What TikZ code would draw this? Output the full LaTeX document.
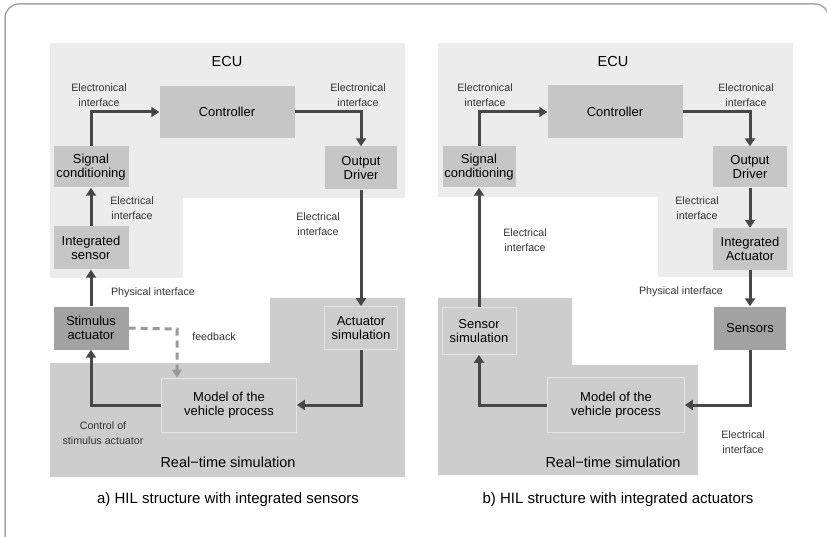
\documentclass[tikz,border=0pt]{standalone}
\usepackage{fontspec}
\setmainfont{Liberation Sans}
\usetikzlibrary{arrows.meta}
\definecolor{ecubg}{HTML}{ECECEC}
\definecolor{simbg}{HTML}{CDCDCD}
\definecolor{boxgray}{HTML}{C6C6C6}
\definecolor{darkgray}{HTML}{A2A2A2}
\definecolor{linegray}{HTML}{474747}
\definecolor{framegray}{HTML}{A8A8A8}

\begin{document}
\begin{tikzpicture}[x=1pt, y=-1pt,
  box/.style={fill=boxgray, align=center, inner sep=0pt, font=\fontsize{13}{14.5}\selectfont},
  darkbox/.style={box, fill=darkgray},
  simbox/.style={box, fill=simbg, draw=white!45!simbg, line width=0.8pt},
  lbl/.style={align=center, text=black!80, font=\fontsize{10.7}{14.5}\selectfont},
  title/.style={font=\fontsize{14.5}{16}\selectfont},
  caption/.style={font=\fontsize{15}{17}\selectfont},
  flow/.style={draw=linegray, line width=3pt, -{Triangle[width=10pt,length=8pt]}},
  fb/.style={flow, draw=black!40, dash pattern=on 7pt off 5pt}
  ]
  \useasboundingbox (0,0) rectangle (827,537);
  \begin{scope}
  \clip (0,0) rectangle (827,537);
  \draw[framegray, line width=1.5pt, rounded corners=14pt] (5,4) rectangle (829,548);
  \end{scope}

  % a) integrated sensors
  \fill[ecubg] (50,43) -- (405,43) -- (405,198) -- (183,198) -- (183,278) -- (50,278) -- cycle;
  \fill[simbg] (50,363) -- (270,363) -- (270,298) -- (405,298) -- (405,477) -- (50,477) -- cycle;
  \node[title] (ecuA) at (227,62) {ECU};
  \node[title] (rtA) at (228,462) {Real−time simulation};
  \node[box, minimum width=135pt, minimum height=52pt] (ctrlA) at (227,112) {Controller};
  \node[box, minimum width=75pt, minimum height=41pt] (sigA) at (91,167) {Signal\\conditioning};
  \node[box, minimum width=72pt, minimum height=43pt] (drvA) at (361,168) {Output\\Driver};
  \node[box, minimum width=75pt, minimum height=43pt] (senA) at (91,248) {Integrated\\sensor};
  \node[darkbox, minimum width=75pt, minimum height=43pt] (stimA) at (91,328) {Stimulus\\actuator};
  \node[simbox, minimum width=73pt, minimum height=43pt] (actA) at (361,328) {Actuator\\simulation};
  \node[simbox, minimum width=135pt, minimum height=54pt] (modA) at (229,405) {Model of the\\vehicle process};
  \coordinate (fbA) at (177,329);
  \draw[flow] (sigA.north) |- (ctrlA.west);
  \draw[flow] (ctrlA.east) -| (drvA.north);
  \draw[flow] (senA.north) -- (sigA.south);
  \draw[flow] (stimA.north) -- (senA.south);
  \draw[flow] (drvA.south) -- (actA.north);
  \draw[flow] (actA.south) |- (modA.east);
  \draw[flow] (modA.west) -| (stimA.south);
  \draw[fb] (stimA.east) -- (fbA) -- (fbA |- modA.north);
  \node[lbl] (eiA1) at (99,95) {Electronical\\interface};
  \node[lbl] (eiA2) at (358,95) {Electronical\\interface};
  \node[lbl] (elA1) at (132,208) {Electrical\\interface};
  \node[lbl] (elA2) at (318,224) {Electrical\\interface};
  \node[lbl] (phA) at (153,293) {Physical interface};
  \node[lbl] (fbkA) at (214,337) {feedback};
  \node[lbl] (csA) at (103,433) {Control of\\stimulus actuator};
  \node[caption] (capA) at (228,500) {a) HIL structure with integrated sensors};

  % b) integrated actuators
  \fill[ecubg] (438,43) -- (793,43) -- (793,277) -- (658,277) -- (658,197) -- (438,197) -- cycle;
  \fill[simbg] (438,298) -- (572,298) -- (572,365) -- (698,365) -- (698,475) -- (438,475) -- cycle;
  \node[title] (ecuB) at (613,62) {ECU};
  \node[title] (rtB) at (613,462) {Real−time simulation};
  \node[box, minimum width=135pt, minimum height=53pt] (ctrlB) at (615,112) {Controller};
  \node[box, minimum width=73pt, minimum height=41pt] (sigB) at (479,167) {Signal\\conditioning};
  \node[box, minimum width=74pt, minimum height=41pt] (drvB) at (750,167) {Output\\Driver};
  \node[box, minimum width=74pt, minimum height=42pt] (iactB) at (750,249) {Integrated\\Actuator};
  \node[darkbox, minimum width=72pt, minimum height=43pt] (sensB) at (750,328) {Sensors};
  \node[simbox, minimum width=74pt, minimum height=47pt] (ssimB) at (479,331) {Sensor\\simulation};
  \node[simbox, minimum width=137pt, minimum height=55pt] (modB) at (616,405) {Model of the\\vehicle process};
  \draw[flow] (sigB.north) |- (ctrlB.west);
  \draw[flow] (ctrlB.east) -| (drvB.north);
  \draw[flow] (drvB.south) -- (iactB.north);
  \draw[flow] (iactB.south) -- (sensB.north);
  \draw[flow] (sensB.south) |- (modB.east);
  \draw[flow] (modB.west) -| (ssimB.south);
  \draw[flow] (ssimB.north) -- (sigB.south);
  \node[lbl] (eiB1) at (485,95) {Electronical\\interface};
  \node[lbl] (eiB2) at (746,95) {Electronical\\interface};
  \node[lbl] (elB1) at (697,208) {Electrical\\interface};
  \node[lbl] (elB2) at (525,240) {Electrical\\interface};
  \node[lbl] (phB) at (681,292) {Physical interface};
  \node[lbl] (elB3) at (743,442) {Electrical\\interface};
  \node[caption] (capB) at (618,500) {b) HIL structure with integrated actuators};
\end{tikzpicture}
\end{document}
